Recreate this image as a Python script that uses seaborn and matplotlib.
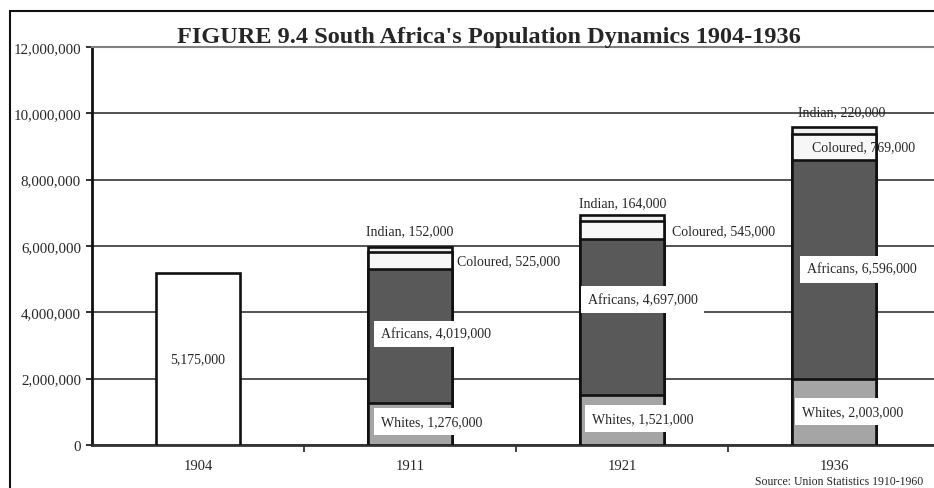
import matplotlib

matplotlib.use("Agg")
import matplotlib.pyplot as plt
import numpy as np
import pandas as pd
import seaborn as sns
from matplotlib.patches import Rectangle

# ---- data -----------------------------------------------------------------
years = ["1904", "1911", "1921", "1936"]
groups = ["Whites", "Africans", "Coloured", "Indian"]
total_1904 = 5175000
whites = [1276000, 1521000, 2003000]      # 1911, 1921, 1936
africans = [4019000, 4697000, 6596000]
coloured = [525000, 545000, 769000]
indian = [152000, 164000, 220000]
source_note = "Source: Union Statistics 1910-1960"
title = "FIGURE 9.4 South Africa's Population Dynamics 1904-1936"

colors = {"Whites": "#a5a5a5", "Africans": "#595959", "Coloured": "#f7f7f7",
          "Indian": "#f0f0f0", "Total": "#ffffff"}

rows = [{"year": years[0], "group": "Total", "value": total_1904}]
for j, yr in enumerate(years[1:]):
    for g, vals in zip(groups, [whites, africans, coloured, indian]):
        rows.append({"year": yr, "group": g, "value": vals[j]})
df = pd.DataFrame(rows)
df["top"] = df.groupby("year")["value"].cumsum()
df["mid"] = df["top"] - df["value"] / 2

# ---- label placement (anchor, dx px, dy px, boxed) ------------------------
label_style = {
    ("1911", "Indian"): ("center", 0, 16, False),
    ("1911", "Coloured"): ("right", 5, 0, False),
    ("1911", "Africans"): ("left", 13, 2, True),
    ("1911", "Whites"): ("left", 13, 2, True),
    ("1921", "Indian"): ("center", 1, 13, False),
    ("1921", "Coloured"): ("right", 8, -1, False),
    ("1921", "Africans"): ("left", 8, 17, True),
    ("1921", "Whites"): ("left", 12, 1, True),
    ("1936", "Indian"): ("center", 8, 15, False),
    ("1936", "Coloured"): ("left", 20, 0, False),
    ("1936", "Africans"): ("left", 15, 0, True),
    ("1936", "Whites"): ("left", 10, 0, True),
}

# ---- figure -----------------------------------------------------------------
sns.set_style("white")
plt.rcParams["font.family"] = ["Liberation Serif", "DejaVu Serif"]

W, H = 934, 489
fig = plt.figure(figsize=(W / 100, H / 100), dpi=100)
ax = fig.add_axes([92 / W, 43 / H, 848 / W, 398 / H])

bar_w = 0.4
for g in ["Total", "Indian", "Coloured", "Africans", "Whites"]:
    sub = df[df["group"] == g]
    sns.barplot(data=sub, x="year", y="top", order=years, color=colors[g],
                saturation=1, width=bar_w, edgecolor="#111111", linewidth=1.9,
                errorbar=None, ax=ax, zorder=3)

ax.set_ylim(0, 12000000)
ax.set_xlim(-0.5, 3.5)
ax.set_xlabel("")
ax.set_ylabel("")
ax.set_yticks(np.arange(0, 12000001, 2000000))
ax.set_yticklabels([f"{int(v):,}" for v in ax.get_yticks()], fontsize=10.8)
ax.yaxis.grid(True, color="#444444", linewidth=1.3, zorder=0)
ax.set_axisbelow(True)

ax.set_xticks(range(len(years)))
ax.set_xticklabels(years, fontsize=10.5)
ax.set_xticks([0.5, 1.5, 2.5], minor=True)
ax.tick_params(axis="x", which="major", length=0, pad=10)
ax.tick_params(axis="x", which="minor", length=5, width=1.3, color="#333333",
               direction="out", bottom=True)
ax.tick_params(axis="y", which="major", length=4, width=1.3, color="#222222",
               direction="out", left=True, pad=4)

for side in ["left", "bottom", "top", "right"]:
    ax.spines[side].set_visible(True)
ax.spines["left"].set_color("#111111")
ax.spines["left"].set_linewidth(2)
ax.spines["bottom"].set_color("#333333")
ax.spines["bottom"].set_linewidth(2)
ax.spines["top"].set_color("#808080")
ax.spines["top"].set_linewidth(1.5)
ax.spines["right"].set_visible(False)

# ---- labels ---------------------------------------------------------------
lbl_fs = 10
ax.text(0, df.loc[df["group"] == "Total", "mid"].iloc[0], f"{total_1904:,}",
        ha="center", va="center", fontsize=lbl_fs, zorder=5)

for _, r in df[df["group"] != "Total"].iterrows():
    xi = years.index(r["year"])
    anchor, dx, dy, boxed = label_style[(r["year"], r["group"])]
    text = f"{r['group']}, {int(r['value']):,}"
    if anchor == "center":
        xy, ha = (xi, r["top"]), "center"
    elif anchor == "right":
        xy, ha = (xi + bar_w / 2, r["mid"]), "left"
    else:
        xy, ha = (xi - bar_w / 2, r["mid"]), "left"
    bbox = dict(boxstyle="square,pad=0.5", fc="white", ec="none") if boxed else None
    ax.annotate(text, xy=xy, xytext=(dx, dy), textcoords="offset pixels",
                ha=ha, va="center", fontsize=lbl_fs, bbox=bbox, zorder=6,
                annotation_clip=False)

fig.text(489 / W, 1 - 37 / H, title, ha="center", va="center",
         fontsize=17.5, fontweight="bold")
fig.text(923 / W, 1 - 482 / H, source_note, ha="right", va="center",
         fontsize=8.5)

# outer frame
fig.patches.append(Rectangle((10 / W, -0.1), 1.2, (H - 12) / H + 0.1,
                             transform=fig.transFigure, fill=False,
                             edgecolor="#111111", linewidth=1.5, zorder=0))

fig.savefig("out.png", dpi=100)
plt.close(fig)
